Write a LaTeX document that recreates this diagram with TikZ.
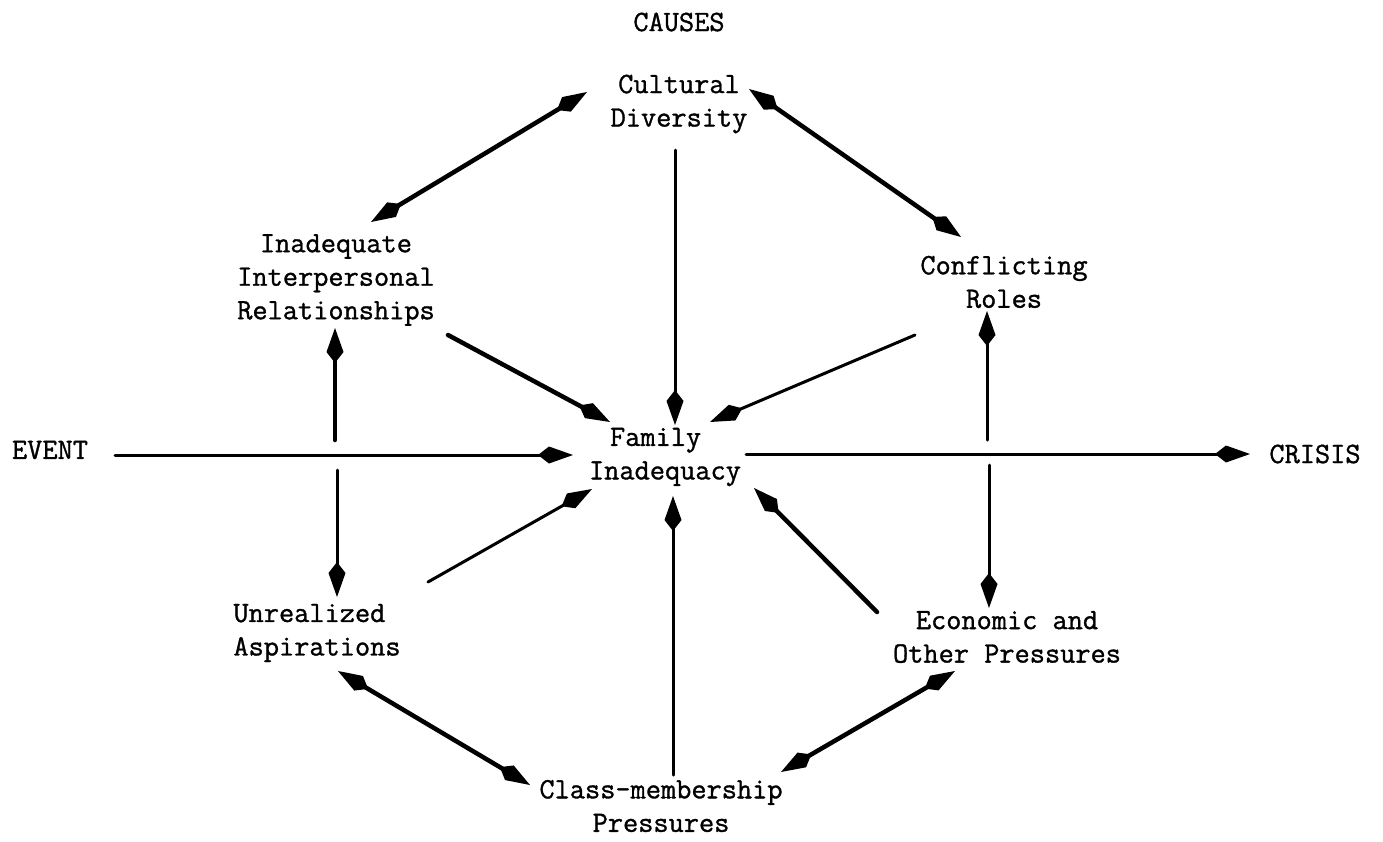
\documentclass[tikz,border=0pt]{standalone}
\usepackage{fontspec}
\newfontfamily\twfont[FakeBold=1.1]{Latin Modern Mono}
\usetikzlibrary{arrows.meta}
\begin{document}
\begin{tikzpicture}[x=1pt,y=-1pt,
  lbl/.style={inner sep=0pt, align=center, font=\twfont\fontsize{29.5}{33.5}\selectfont},
  >={Kite[length=35pt,width=17pt,inset=11pt]},
  conn/.style={line width=3pt, line cap=round},
  bold/.style={line width=4.5pt, line cap=round}]
\useasboundingbox (0,0) rectangle (1383,841);
% labels
\node[lbl] (causes) at (679,22) {CAUSES};
\node[lbl] (cult) at (679,104) {Cultural\\Diversity};
\node[lbl] (inad) at (336,280) {Inadequate\\Interpersonal\\Relationships};
\node[lbl] (conf) at (1004,282) {Conflicting\\Roles};
\node[lbl, align=left] (fam) at (665,457) {\hspace*{21pt}Family\\Inadequacy};
\node[lbl] (event) at (50,450) {EVENT};
\node[lbl] (crisis) at (1315,454) {CRISIS};
\node[lbl, align=left] (unr) at (317,633) {Unrealized\\Aspirations};
\node[lbl] (econ) at (1007,637) {Economic and\\Other Pressures};
\node[lbl] (class) at (661,806) {Class-membership\\Pressures};
% connector end points
\coordinate (cultL) at (587,92);   \coordinate (inadT) at (371,222);
\coordinate (cultR) at (749,89);   \coordinate (confT) at (961,237);
\coordinate (cultB) at (675,150);  \coordinate (famT) at (675,425);
\coordinate (inadB) at (448,335);  \coordinate (famUL) at (610,422);
\coordinate (confB) at (915,335);  \coordinate (famUR) at (710,422);
\coordinate (eventR) at (115,455); \coordinate (famL) at (573,455);
\coordinate (famR) at (746,454);   \coordinate (crisisL) at (1250,454);
\coordinate (lvU) at (335,440);    \coordinate (inadV) at (335,328);
\coordinate (lvD) at (337,470);    \coordinate (unrT) at (337,597);
\coordinate (rvU) at (987,440);    \coordinate (confV) at (987,311);
\coordinate (rvD) at (989,465);    \coordinate (econT) at (989,608);
\coordinate (unrR) at (428,582);   \coordinate (famLL) at (592,489);
\coordinate (classT) at (673,775); \coordinate (famB) at (673,496);
\coordinate (econL) at (877,612);  \coordinate (famLR) at (754,488);
\coordinate (unrB) at (338,671);   \coordinate (classL) at (530,785);
\coordinate (econB) at (955,671);  \coordinate (classR) at (781,772);
% connectors
\draw[bold, <->] (inadT) -- (cultL);
\draw[bold, <->] (cultR) -- (confT);
\draw[conn, ->] (cultB) -- (famT);
\draw[bold, ->] (inadB) -- (famUL);
\draw[conn, ->] (confB) -- (famUR);
\draw[conn, ->] (eventR) -- (famL);
\draw[conn, ->] (famR) -- (crisisL);
\draw[bold, ->] (lvU) -- (inadV);
\draw[conn, ->] (lvD) -- (unrT);
\draw[conn, ->] (rvU) -- (confV);
\draw[conn, ->] (rvD) -- (econT);
\draw[conn, ->] (unrR) -- (famLL);
\draw[conn, ->] (classT) -- (famB);
\draw[bold, ->] (econL) -- (famLR);
\draw[bold, <->] (unrB) -- (classL);
\draw[bold, <->] (econB) -- (classR);
\end{tikzpicture}
\end{document}
